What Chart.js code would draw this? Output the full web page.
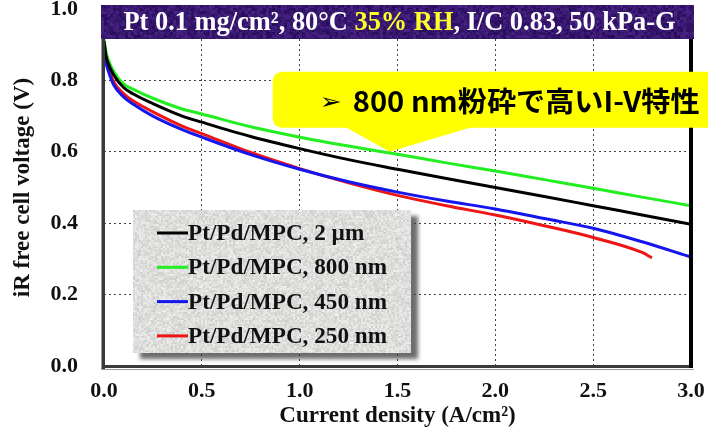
<!DOCTYPE html>
<html>
<head>
<meta charset="utf-8">
<script src="https://cdn.jsdelivr.net/npm/chart.js@4.4.1/dist/chart.umd.min.js"></script>
<style>
  html, body { margin: 0; padding: 0; background: #ffffff; }
  #wrap { width: 708px; height: 436px; }
</style>
</head>
<body>
<div id="wrap"><canvas id="iv" width="708" height="436"></canvas></div>
<script>
// Current density (A/cm2) sample points
const currentDensity = [0, 0.01, 0.02, 0.05, 0.1, 0.15, 0.25, 0.4, 0.5, 0.75, 1.0, 1.25, 1.5, 1.75, 2.0, 2.25, 2.5, 2.75, 3.0];
const currentDensity250 = [0, 0.01, 0.02, 0.05, 0.1, 0.15, 0.25, 0.4, 0.5, 0.75, 1.0, 1.25, 1.5, 1.75, 2.0, 2.25, 2.5, 2.75, 2.8];

// iR-free cell voltage (V) for each catalyst grind size
const voltage2um  = [0.91, 0.87, 0.85, 0.815, 0.78, 0.762, 0.735, 0.70, 0.683, 0.643, 0.609, 0.578, 0.551, 0.525, 0.50, 0.475, 0.449, 0.423, 0.397];
const voltage800  = [0.915, 0.88, 0.86, 0.825, 0.79, 0.775, 0.75, 0.72, 0.706, 0.67, 0.641, 0.616, 0.593, 0.569, 0.546, 0.522, 0.498, 0.473, 0.449];
const voltage450  = [0.89, 0.85, 0.83, 0.787, 0.754, 0.733, 0.70, 0.662, 0.641, 0.592, 0.551, 0.516, 0.487, 0.462, 0.440, 0.413, 0.386, 0.348, 0.305];
const voltage250  = [0.91, 0.865, 0.84, 0.796, 0.763, 0.742, 0.712, 0.672, 0.651, 0.598, 0.553, 0.513, 0.478, 0.449, 0.423, 0.393, 0.360, 0.318, 0.303];

const seriesLabels = ['Pt/Pd/MPC, 2 \u00b5m', 'Pt/Pd/MPC, 800 nm', 'Pt/Pd/MPC, 450 nm', 'Pt/Pd/MPC, 250 nm'];

const xTickValues = [0, 0.5, 1.0, 1.5, 2.0, 2.5, 3.0];
const yTickValues = [0, 0.2, 0.4, 0.6, 0.8, 1.0];

const bannerParts = [
  { text: 'Pt 0.1 mg/cm\u00b2, 80\u00b0C ', color: '#ffffff' },
  { text: '35% RH', color: '#ffff2a' },
  { text: ', I/C 0.83, 50 kPa-G', color: '#ffffff' }
];
const calloutText = '800 nm\u7c89\u7815\u3067\u9ad8\u3044I-V\u7279\u6027';
const calloutPoint = { x: 1.46, y: 0.6 };

const SERIF = '"Liberation Serif", "Times New Roman", serif';

function toPoints(xs, ys) {
  return xs.map((x, i) => ({ x: x, y: ys[i] }));
}

// Deterministic speckle texture used for the banner and legend panels
function speckle(w, h, base, amp, grain, seed) {
  w = Math.round(w); h = Math.round(h);
  const c = document.createElement('canvas');
  c.width = w; c.height = h;
  const g = c.getContext('2d');
  const img = g.createImageData(w, h);
  const hash = (a, b) => {
    const n = Math.sin(a * 12.9898 + b * 78.233 + seed * 3.17) * 43758.5453;
    return n - Math.floor(n);
  };
  for (let j = 0; j < h; j++) {
    for (let i = 0; i < w; i++) {
      const coarse = hash(Math.floor(i / grain) + 0.5, Math.floor(j / grain) + 0.25);
      const fine = hash(i + 0.37, j + 0.71);
      const d = ((coarse * 0.6 + fine * 0.4) - 0.5) * amp;
      const k = (j * w + i) * 4;
      img.data[k] = base[0] + d * base[3];
      img.data[k + 1] = base[1] + d * base[4];
      img.data[k + 2] = base[2] + d * base[5];
      img.data[k + 3] = 255;
    }
  }
  g.putImageData(img, 0, 0);
  return c;
}

function drawStretched(ctx, text, x, y, targetWidth, align) {
  const w = ctx.measureText(text).width;
  const s = targetWidth / w;
  ctx.save();
  ctx.translate(x, y);
  ctx.scale(s, 1);
  ctx.textAlign = align || 'left';
  ctx.fillText(text, 0, 0);
  ctx.restore();
}

const decorPlugin = {
  id: 'decor',
  afterDatasetsDraw(chart) {
    const ctx = chart.ctx;
    const a = chart.chartArea;
    const xs = chart.scales.x, ys = chart.scales.y;

    // Plot frame
    ctx.save();
    ctx.fillStyle = '#9a9a9a';
    ctx.fillRect(a.left - 3, a.top, 1, a.bottom - a.top + 4);
    ctx.fillRect(a.left - 3, a.bottom + 3, a.right - a.left + 6, 1);
    ctx.fillStyle = '#3a3a3a';
    ctx.fillRect(a.left - 2, a.top, 3, a.bottom - a.top + 3);
    ctx.fillRect(a.left - 2, a.bottom - 1, a.right - a.left + 4, 3);
    ctx.fillStyle = '#000000';
    ctx.fillRect(a.right - 2, a.top, 4, a.bottom - a.top + 2);
    ctx.restore();

    // Condition banner across the top of the plot
    const bx = Math.round(a.left - 3), by = Math.round(a.top - 4), bw = Math.round(a.right - a.left + 6), bh = 34;
    if (!chart.$bannerTex) chart.$bannerTex = speckle(bw, bh, [56, 24, 112, 0.8, 0.6, 1.0], 60, 3, 1);
    ctx.drawImage(chart.$bannerTex, bx, by);
    ctx.save();
    ctx.font = 'bold 27px ' + SERIF;
    ctx.textBaseline = 'middle';
    const full = bannerParts.map(p => p.text).join('');
    const fullW = ctx.measureText(full).width;
    const targetW = 552;
    const sc = targetW / fullW;
    let tx = (bx + bw / 2) - targetW / 2 + 2;
    const ty = by + bh / 2 + 1;
    bannerParts.forEach(p => {
      ctx.fillStyle = p.color;
      ctx.save();
      ctx.translate(tx, ty);
      ctx.scale(sc, 1);
      ctx.textAlign = 'left';
      ctx.fillText(p.text, 0, 0);
      ctx.restore();
      tx += ctx.measureText(p.text).width * sc;
    });
    ctx.restore();

    // Legend panel
    const lx = 133, ly = 210, lw = 278, lh = 143;
    ctx.save();
    ctx.shadowColor = 'rgba(60,60,60,0.75)';
    ctx.shadowBlur = 4;
    ctx.shadowOffsetX = 7;
    ctx.shadowOffsetY = 6;
    ctx.fillStyle = '#d8d8d8';
    ctx.fillRect(lx, ly, lw, lh);
    ctx.restore();
    if (!chart.$legendTex) chart.$legendTex = speckle(lw, lh, [222, 222, 220, 1, 1, 1], 46, 2, 7);
    ctx.drawImage(chart.$legendTex, lx, ly);
    ctx.save();
    ctx.font = 'bold 23px ' + SERIF;
    ctx.textBaseline = 'middle';
    const refW = ctx.measureText(seriesLabels[1]).width;
    const lsc = 199 / refW;
    chart.data.datasets.forEach((ds, i) => {
      const ry = ly + 23 + i * 34.3;
      ctx.fillStyle = ds.borderColor;
      ctx.fillRect(lx + 24, ry - 1.5, 31, 3);
      ctx.fillStyle = '#111111';
      ctx.save();
      ctx.translate(lx + 55, ry + 1);
      ctx.scale(lsc, 1);
      ctx.fillText(ds.label, 0, 0);
      ctx.restore();
    });
    ctx.restore();

    // Yellow callout pointing at the 800 nm curve
    const px = xs.getPixelForValue(calloutPoint.x);
    const py = ys.getPixelForValue(calloutPoint.y);
    const cTop = py - 80, cBot = py - 24, cLeft = px - 117, cRight = chart.width + 20, r = 11;
    ctx.save();
    ctx.fillStyle = '#ffff00';
    ctx.beginPath();
    ctx.moveTo(cLeft + r, cTop);
    ctx.lineTo(cRight, cTop);
    ctx.lineTo(cRight, cBot);
    ctx.lineTo(px + 80, cBot);
    ctx.lineTo(px, py);
    ctx.lineTo(px - 43, cBot);
    ctx.lineTo(cLeft + r, cBot);
    ctx.quadraticCurveTo(cLeft, cBot, cLeft, cBot - r);
    ctx.lineTo(cLeft, cTop + r);
    ctx.quadraticCurveTo(cLeft, cTop, cLeft + r, cTop);
    ctx.closePath();
    ctx.fill();
    ctx.fillStyle = '#000000';
    ctx.textBaseline = 'middle';
    ctx.font = 'bold 22px "DejaVu Sans", sans-serif';
    drawStretched(ctx, '\u27a2', px - 70, cTop + 31, 22, 'left');
    ctx.font = 'bold 28px "Noto Sans CJK JP", "Noto Sans", sans-serif';
    drawStretched(ctx, calloutText, px - 37, cTop + 30, 347, 'left');
    ctx.restore();
  }
};

const tickFont = { family: SERIF, size: 22, weight: 'bold' };

new Chart(document.getElementById('iv'), {
  type: 'line',
  data: {
    datasets: [
      { label: seriesLabels[0], data: toPoints(currentDensity, voltage2um), borderColor: '#000000' },
      { label: seriesLabels[1], data: toPoints(currentDensity, voltage800), borderColor: '#22ee22' },
      { label: seriesLabels[2], data: toPoints(currentDensity, voltage450), borderColor: '#1515ee' },
      { label: seriesLabels[3], data: toPoints(currentDensity250, voltage250), borderColor: '#ee1515' }
    ].map(d => Object.assign(d, {
      borderWidth: 3, pointRadius: 0, fill: false, cubicInterpolationMode: 'monotone'
    }))
  },
  options: {
    responsive: false,
    animation: false,
    devicePixelRatio: 1,
    layout: { autoPadding: false, padding: { top: 9, right: 17, left: 0, bottom: 0 } },
    plugins: { legend: { display: false }, tooltip: { enabled: false } },
    scales: {
      x: {
        type: 'linear', min: 0, max: 3,
        afterBuildTicks: s => { s.ticks = xTickValues.map(v => ({ value: v })); },
        afterFit: s => { s.height = 70; s.paddingLeft = 0; s.paddingRight = 0; },
        ticks: { font: tickFont, color: '#111111', padding: 12, maxRotation: 0,
                 callback: v => Number(v).toFixed(1) },
        grid: { color: '#444444', lineWidth: 1, drawTicks: false },
        border: { display: false, dash: [2, 3] },
        title: { display: true, text: 'Current density (A/cm\u00b2)', color: '#111111',
                 font: { family: SERIF, size: 23, weight: 'bold' }, padding: { top: 0, bottom: 6 } }
      },
      y: {
        min: 0, max: 1,
        afterBuildTicks: s => { s.ticks = yTickValues.map(v => ({ value: v })); },
        afterFit: s => { s.width = 104; s.paddingTop = 0; s.paddingBottom = 0; },
        ticks: { font: tickFont, color: '#111111', padding: 26,
                 callback: v => Number(v).toFixed(1) },
        grid: { color: '#444444', lineWidth: 1, drawTicks: false },
        border: { display: false, dash: [2, 3] },
        title: { display: true, text: 'iR free cell voltage (V)', color: '#111111',
                 font: { family: SERIF, size: 23, weight: 'bold' }, padding: { top: 9, bottom: 0 } }
      }
    }
  },
  plugins: [decorPlugin]
});
</script>
</body>
</html>
